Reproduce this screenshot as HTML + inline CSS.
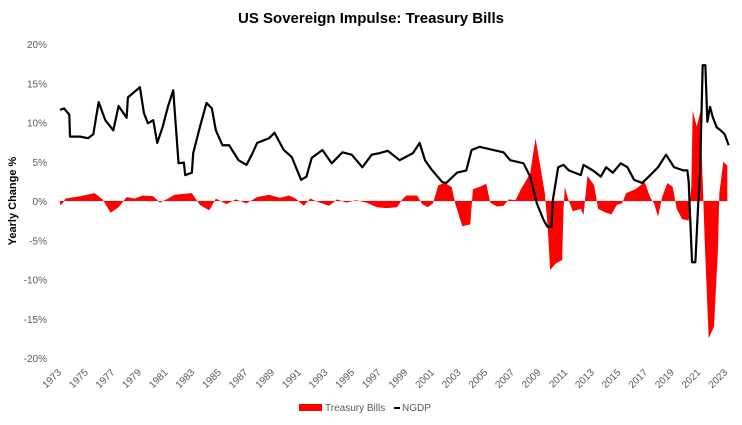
<!DOCTYPE html>
<html><head><meta charset="utf-8"><style>
body{margin:0;background:#fff;}
svg{display:block;font-family:"Liberation Sans",sans-serif;}
</style></head><body>
<svg id="c" width="742" height="425">
<text x="371" y="23" text-anchor="middle" font-size="15" font-weight="bold" fill="#000">US Sovereign Impulse: Treasury Bills</text>
<text transform="translate(16,201) rotate(-90)" text-anchor="middle" font-size="11" font-weight="bold" fill="#000">Yearly Change %</text>
<g id="yt"></g><g id="xt"></g>
<line x1="58" x2="728" y1="201" y2="201" stroke="#d9d9d9" stroke-width="1"/>
<polygon id="tb" fill="#ff0000"/>
<polyline id="ng" fill="none" stroke="#000" stroke-width="2.2" stroke-linejoin="round"/>
<rect x="299" y="404" width="23" height="7" fill="#ff0000"/>
<text x="325" y="411" font-size="10" fill="#595959">Treasury Bills</text>
<line x1="394" x2="400" y1="408" y2="408" stroke="#000" stroke-width="2"/>
<text x="402" y="411" font-size="10" fill="#595959">NGDP</text>
</svg>
<script>
const yTicks=[20,15,10,5,0,-5,-10,-15,-20];
const xTicks=[1973,1975,1977,1979,1981,1983,1985,1987,1989,1991,1993,1995,1997,1999,2001,2003,2005,2007,2009,2011,2013,2015,2017,2019,2021,2023];
const ngdpYears=[1973.0,1973.3,1973.7,1973.75,1974.5,1975.1,1975.5,1975.9,1976.4,1977.0,1977.4,1978.0,1978.1,1979.0,1979.3,1979.6,1980.0,1980.3,1980.7,1981.1,1981.5,1981.9,1982.3,1982.4,1982.9,1983.0,1983.5,1984.0,1984.4,1984.7,1985.2,1985.7,1986.4,1987.0,1987.4,1987.8,1988.7,1989.1,1989.8,1990.4,1991.1,1991.5,1991.9,1992.7,1993.4,1994.2,1994.9,1995.7,1996.4,1997.0,1997.6,1998.5,1999.5,2000.0,2000.4,2000.9,2001.7,2002.0,2002.8,2003.5,2003.9,2004.5,2005.5,2006.3,2006.8,2007.8,2008.3,2008.8,2009.3,2009.6,2009.9,2010.0,2010.4,2010.8,2011.2,2012.1,2012.3,2013.0,2013.6,2014.0,2014.5,2015.1,2015.6,2016.1,2016.7,2017.2,2017.9,2018.5,2019.1,2019.8,2020.1,2020.2,2020.45,2020.7,2020.9,2021.05,2021.25,2021.45,2021.6,2021.8,2022.0,2022.3,2022.6,2022.9,2023.2];
const ngdpValues=[11.6,11.8,11.0,8.2,8.2,8.0,8.5,12.6,10.3,9.0,12.1,10.6,13.2,14.5,11.2,9.9,10.3,7.4,9.4,12.0,14.1,4.8,4.9,3.3,3.6,6.1,9.4,12.5,11.8,9.0,7.1,7.1,5.2,4.6,5.9,7.4,8.0,8.7,6.5,5.6,2.7,3.1,5.5,6.5,4.8,6.2,5.9,4.3,5.9,6.1,6.4,5.2,6.1,7.4,5.2,4.0,2.4,2.3,3.6,3.9,6.5,6.9,6.5,6.2,5.2,4.8,3.1,-0.3,-2.4,-3.3,-3.3,0.1,4.3,4.6,3.9,3.3,4.6,3.9,3.1,4.3,3.6,4.8,4.3,2.7,2.3,3.1,4.3,5.9,4.3,3.9,3.9,2.4,-7.8,-7.8,-0.8,3.6,17.3,17.3,10.1,12.0,10.7,9.4,9.0,8.5,7.1];
const tbYears=[1973.0,1973.2,1973.4,1974.5,1975.6,1976.2,1976.8,1977.4,1978.0,1978.6,1979.2,1980.0,1980.5,1981.0,1981.6,1982.9,1983.5,1984.2,1984.7,1985.5,1986.2,1987.0,1987.8,1988.7,1989.5,1990.2,1990.7,1991.3,1991.8,1992.5,1993.2,1993.8,1994.5,1995.2,1996.0,1996.8,1997.5,1998.3,1998.7,1999.0,1999.8,2000.2,2000.6,2001.0,2001.4,2001.9,2002.4,2002.7,2003.2,2003.8,2004.0,2004.5,2005.0,2005.3,2005.8,2006.3,2006.7,2007.2,2007.6,2008.3,2008.7,2009.1,2009.4,2009.6,2009.8,2010.2,2010.7,2010.8,2010.9,2011.1,2011.5,2012.1,2012.3,2012.6,2013.1,2013.4,2014.0,2014.4,2014.8,2015.2,2015.5,2016.2,2016.9,2017.3,2017.6,2017.9,2018.2,2018.6,2019.0,2019.3,2019.7,2020.2,2020.4,2020.5,2020.8,2021.1,2021.2,2021.4,2021.7,2022.1,2022.4,2022.5,2022.8,2023.1];
const tbValues=[-0.5,-0.3,0.3,0.6,1.0,0.2,-1.5,-0.8,0.5,0.3,0.7,0.6,-0.2,0.2,0.8,1.0,-0.5,-1.2,0.3,-0.4,0.2,-0.3,0.5,0.8,0.4,0.7,0.3,-0.6,0.3,-0.2,-0.6,0.2,-0.2,0.1,-0.2,-0.8,-0.9,-0.8,0.2,0.7,0.7,-0.4,-0.8,-0.3,2.0,2.3,1.8,-0.5,-3.2,-3.0,1.5,1.8,2.2,-0.2,-0.7,-0.6,0.2,0.1,1.5,3.5,8.0,4.0,1.0,-3.0,-8.8,-8.0,-7.5,-1.0,1.8,0.5,-1.3,-1.0,-1.8,3.2,2.0,-1.0,-1.5,-1.7,-0.5,-0.3,1.0,1.5,2.4,0.5,-0.3,-2.0,0.5,2.3,1.8,-1.0,-2.3,-2.5,2.0,11.5,9.5,11.5,5.0,-5.0,-17.5,-16.0,-6.0,1.0,5.0,4.5];
const X=y=>60+(y-1973)*13.32;
const Y=v=>201-v*7.85;
const NS="http://www.w3.org/2000/svg";
const yt=document.getElementById('yt');
yTicks.forEach(v=>{const t=document.createElementNS(NS,'text');
t.setAttribute('x',47);t.setAttribute('y',Y(v)+4);t.setAttribute('text-anchor','end');t.setAttribute('font-size','10');t.setAttribute('fill','#595959');
t.textContent=v+'%';


yt.appendChild(t);});
const xt=document.getElementById('xt');
xTicks.forEach(yr=>{const t=document.createElementNS(NS,'text');
const x=X(yr)+2,y=373;
t.setAttribute('transform','translate('+x+','+y+') rotate(-45)');t.setAttribute('text-anchor','end');t.setAttribute('font-size','10');t.setAttribute('fill','#595959');
t.textContent=yr;


xt.appendChild(t);});
let p=[X(tbYears[0])+','+Y(0)];
tbYears.forEach((y,i)=>p.push(X(y)+','+Y(tbValues[i])));
p.push(X(tbYears[tbYears.length-1])+','+Y(0));
document.getElementById('tb').setAttribute('points',p.join(' '));
document.getElementById('ng').setAttribute('points',ngdpYears.map((y,i)=>X(y)+','+Y(ngdpValues[i])).join(' '));
</script>
</body></html>
